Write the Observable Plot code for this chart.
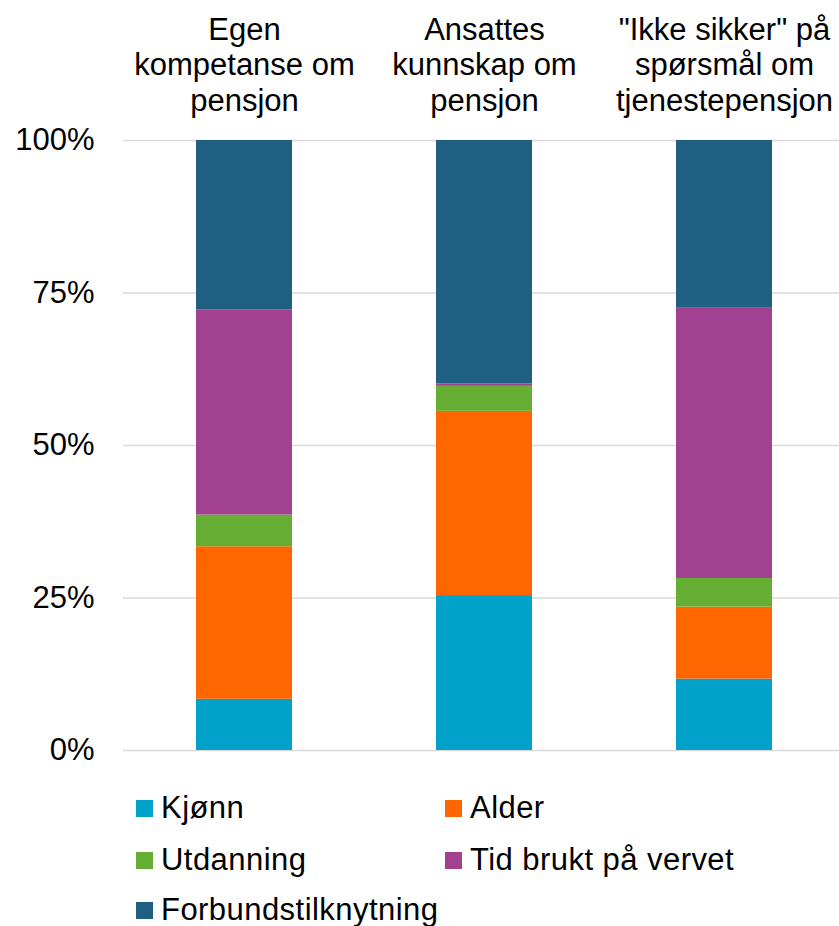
<!DOCTYPE html>
<html>
<head>
<meta charset="utf-8">
<script src="https://cdn.jsdelivr.net/npm/d3@7"></script>
<script src="https://cdn.jsdelivr.net/npm/@observablehq/plot@0.6"></script>
<style>
  html, body { margin: 0; padding: 0; background: #fff; }
  body { width: 839px; height: 926px; overflow: hidden; font-family: "Liberation Sans", Arial, sans-serif; }
  #legend { position: relative; height: 166px; }
  .item { position: absolute; display: flex; align-items: center; height: 30px; line-height: 30px; font-size: 31px; letter-spacing: 0.45px; color: #000; white-space: nowrap; }
  .sw { width: 17px; height: 17px; margin-right: 8px; flex: none; }
</style>
</head>
<body>
<div id="chart"></div>
<div id="legend"></div>
<script>
const categories = ["Egen kompetanse om pensjon", "Ansattes kunnskap om pensjon", "\"Ikke sikker\" på spørsmål om tjenestepensjon"];
const categoryLabels = ["Egen\nkompetanse om\npensjon", "Ansattes\nkunnskap om\npensjon", "\"Ikke sikker\" på\nspørsmål om\ntjenestepensjon"];
const seriesNames = ["Kjønn", "Alder", "Utdanning", "Tid brukt på vervet", "Forbundstilknytning"];
const seriesColors = ["#00a2ca", "#ff6600", "#66ad34", "#a1418f", "#1f5f81"];
const kjonn = [8.4, 25.4, 11.7];
const alder = [25.0, 30.2, 11.8];
const utdanning = [5.2, 4.1, 4.7];
const tidBrukt = [33.6, 0.4, 44.3];
const forbund = [27.8, 39.9, 27.5];
const yTicks = [0, 25, 50, 75, 100];

const seriesValues = [kjonn, alder, utdanning, tidBrukt, forbund];
const rows = [];
seriesNames.forEach((s, si) => {
  categories.forEach((c, ci) => rows.push({category: c, series: s, value: seriesValues[si][ci]}));
});
const labelOf = new Map(categories.map((c, i) => [c, categoryLabels[i]]));

const chart = Plot.plot({
  width: 839,
  height: 760,
  marginTop: 140,
  marginBottom: 10,
  marginLeft: 123,
  marginRight: -5,
  style: {fontFamily: "'Liberation Sans', Arial, sans-serif", background: "#fff", color: "#000", overflow: "visible"},
  x: {domain: categories, paddingInner: 0.6, paddingOuter: 0.3, axis: null},
  y: {domain: [0, 100], ticks: yTicks, tickFormat: d => d + "%", label: null},
  color: {domain: seriesNames, range: seriesColors},
  marks: [
    Plot.gridY(yTicks, {stroke: "#d9d9d9", strokeOpacity: 1, strokeWidth: 1.5}),
    Plot.axisY(yTicks, {tickSize: 0, tickPadding: 29, fontSize: 31, tickFormat: d => d + "%", label: null, fill: "#000"}),
    Plot.barY(rows, {x: "category", y: "value", fill: "series", order: seriesNames}),
    Plot.text(categories, {x: d => d, text: d => labelOf.get(d), frameAnchor: "top", lineAnchor: "bottom", dy: -30, fontSize: 31, lineHeight: 1.14, fill: "#000"})
  ]
});
document.getElementById("chart").appendChild(chart);

const legend = document.getElementById("legend");
const positions = [[136, 33], [445, 33], [136, 85], [445, 85], [136, 135]];
seriesNames.forEach((s, i) => {
  const it = document.createElement("div");
  it.className = "item";
  it.style.left = positions[i][0] + "px";
  it.style.top = positions[i][1] + "px";
  const sw = document.createElement("span");
  sw.className = "sw";
  sw.style.background = seriesColors[i];
  it.appendChild(sw);
  it.appendChild(document.createTextNode(s));
  legend.appendChild(it);
});
</script>
</body>
</html>
